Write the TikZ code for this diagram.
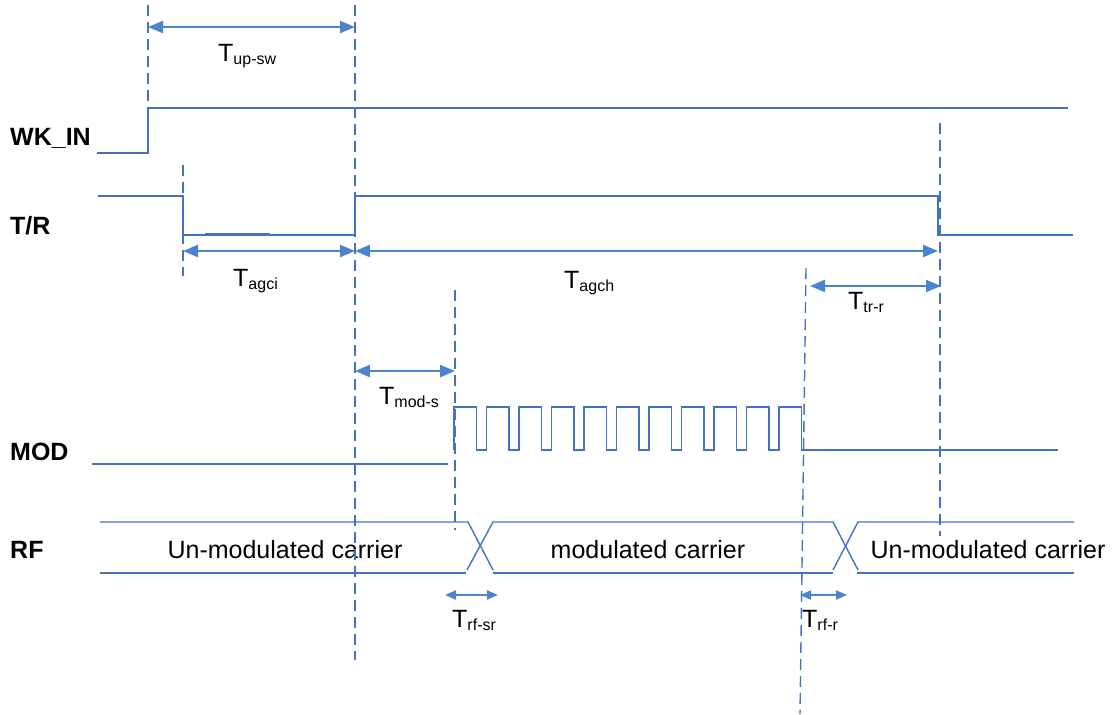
\documentclass[tikz,border=0pt]{standalone}
\usepackage{fontspec}
\setmainfont{Liberation Sans}
\usetikzlibrary{arrows.meta}
\definecolor{sigblue}{RGB}{68,114,196}
\definecolor{arrblue}{RGB}{74,132,206}
% subscript used in the timing labels
\newcommand\tsub[1]{\raisebox{-3pt}{\fontsize{16}{18}\selectfont #1}}
\tikzset{
  sig/.style={draw=sigblue, line width=1.4pt},
  guide/.style={draw=sigblue, line width=1.4pt, dash pattern=on 11pt off 6pt},
  span/.style={draw=arrblue, line width=2.4pt, {Triangle[length=15pt,width=12pt]}-{Triangle[length=15pt,width=12pt]}},
  shortspan/.style={draw=arrblue, line width=2pt, {Triangle[length=11pt,width=9pt]}-{Triangle[length=11pt,width=9pt]}},
  signame/.style={anchor=base west, inner sep=0pt, font=\fontsize{25}{30}\selectfont\bfseries},
  tlabel/.style={anchor=base west, inner sep=0pt, font=\fontsize{25}{30}\selectfont},
  rftext/.style={anchor=base, inner sep=0pt, font=\fontsize{25}{30}\selectfont},
}
\begin{document}
\begin{tikzpicture}[x=1pt,y=-1pt]
\useasboundingbox (0,0) rectangle (1115,714);

% signal names
\node[signame] (nwk)  at (10,146) {WK\_IN};
\node[signame] (ntr)  at (10,234) {T/R};
\node[signame] (nmod) at (10,460) {MOD};
\node[signame] (nrf)  at (10,558) {RF};

% WK_IN
\draw[sig] (97,153) -- (148,153) -- (148,108) -- (1068,108);

% T/R
\draw[sig] (98,196) -- (183,196) -- (183,235) -- (355,235) -- (355,196)
  -- (938,196) -- (938,235) -- (1073,235);
\draw[sig] (205,233.8) -- (270,233.8);

% MOD
\draw[sig] (92,464) -- (448,464);
\draw[sig] (454,450)
  foreach \k in {0,...,10}{
    -- ({454+\k*32.5},407) -- ({476.5+\k*32.5},407)
    -- ({476.5+\k*32.5},450) -- ({486.5+\k*32.5},450)}
  -- (1058,450);

% RF
\draw[sig] (100,522) -- (468,522) -- (493,570);
\draw[sig] (100,573) -- (466,573);
\draw[sig] (467,570) -- (493,522) -- (833,522) -- (858,570);
\draw[sig] (493,573) -- (833,573);
\draw[sig] (833,570) -- (858,522) -- (1074,522);
\draw[sig] (857,573) -- (1074,573);
\node[rftext] (c1) at (285,558) {Un-modulated carrier};
\node[rftext] (c2) at (648,558) {modulated carrier};
\node[rftext] (c3) at (988,558) {Un-modulated carrier};

% time markers
\coordinate (g1a) at (148,5);   \coordinate (g1b) at (148,150);
\coordinate (g2a) at (355,5);   \coordinate (g2b) at (355,660);
\coordinate (g3a) at (183,165); \coordinate (g3b) at (183,276);
\coordinate (g4a) at (455,290); \coordinate (g4b) at (455,530);
\coordinate (g5a) at (806,268); \coordinate (g5b) at (800,714);
\coordinate (g6a) at (940,123); \coordinate (g6b) at (940,536);
\draw[guide] (g1a) -- (g1b);
\draw[guide] (g2a) -- (g2b);
\draw[guide] (g3a) -- (g3b);
\draw[guide] (g4a) -- (g4b);
\draw[guide] (g5a) -- (g5b);
\draw[guide] (g6a) -- (g6b);

% interval arrows
\coordinate (a1l) at (148,27);  \coordinate (a1r) at (355,27);
\coordinate (a2l) at (183,251); \coordinate (a2r) at (355,251);
\coordinate (a3l) at (355,251); \coordinate (a3r) at (938,251);
\coordinate (a4l) at (810,286); \coordinate (a4r) at (941,286);
\coordinate (a5l) at (355,371); \coordinate (a5r) at (455,371);
\coordinate (a6l) at (445,595); \coordinate (a6r) at (498,595);
\coordinate (a7l) at (800,595); \coordinate (a7r) at (847,595);
\draw[span] (a1l) -- (a1r);
\draw[span] (a2l) -- (a2r);
\draw[span] (a3l) -- (a3r);
\draw[span] (a4l) -- (a4r);
\draw[span] (a5l) -- (a5r);
\draw[shortspan] (a6l) -- (a6r);
\draw[shortspan] (a7l) -- (a7r);

% interval labels
\node[tlabel] (tupsw)  at (218,62)  {T\tsub{up-sw}};
\node[tlabel] (tagci)  at (233,286) {T\tsub{agci}};
\node[tlabel] (tagch)  at (564,288) {T\tsub{agch}};
\node[tlabel] (ttrr)   at (848,309) {T\tsub{tr-r}};
\node[tlabel] (tmods)  at (379,404) {T\tsub{mod-s}};
\node[tlabel] (trfsr)  at (452,627) {T\tsub{rf-sr}};
\node[tlabel] (trfr)   at (802,627) {T\tsub{rf-r}};
\end{tikzpicture}
\end{document}
